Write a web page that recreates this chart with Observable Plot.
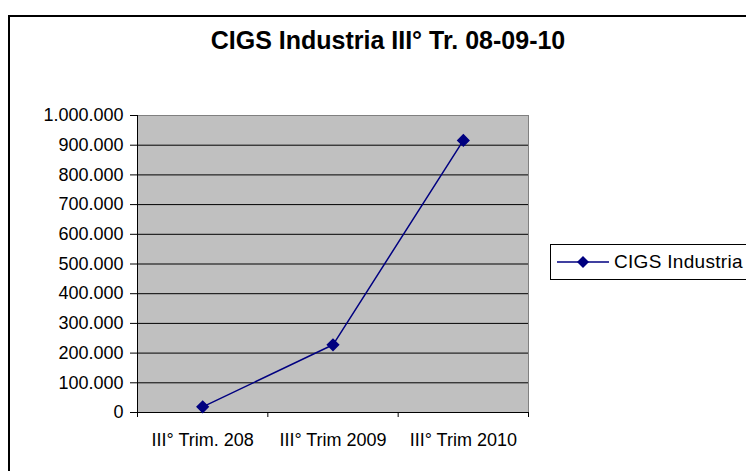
<!DOCTYPE html>
<html><head><meta charset="utf-8">
<script src="https://cdn.jsdelivr.net/npm/d3@7"></script>
<script src="https://cdn.jsdelivr.net/npm/@observablehq/plot@0.6"></script>
<style>
body{margin:0;background:#fff;font-family:"Liberation Sans",Arial,sans-serif;}
#wrap{position:relative;width:746px;height:471px;overflow:hidden;background:#fff;}
#frame{position:absolute;left:8px;top:15px;width:800px;height:520px;border:2px solid #000;box-sizing:border-box;pointer-events:none;}
#title{position:absolute;left:188px;width:400px;top:26px;text-align:center;font-weight:bold;font-size:25px;color:#000;white-space:nowrap;}
#legend{position:absolute;left:550px;top:244px;width:220px;height:36px;border:1px solid #000;box-sizing:border-box;background:#fff;display:flex;align-items:center;}
#legend span{font-size:19px;color:#000;margin-left:4px;white-space:nowrap;letter-spacing:0.3px;}
#chart{position:absolute;left:0;top:0;}
</style>
</head><body>
<div id="wrap">
  <div id="chart"></div>
  <div id="frame"></div>
  <div id="title">CIGS Industria III° Tr. 08-09-10</div>
  <div id="legend"><svg width="54" height="20" style="margin-left:5px"><line x1="1" x2="53" y1="10" y2="10" stroke="#000080" stroke-width="1.5"/><path d="M27,4L33,10L27,16L21,10Z" fill="#000080"/></svg><span id="legtext"></span></div>
</div>
<script>
const seriesName = "CIGS Industria";
const categories = ["III° Trim. 208", "III° Trim 2009", "III° Trim 2010"];
const values = [19000, 228000, 916000];
const yTicks = [0, 100000, 200000, 300000, 400000, 500000, 600000, 700000, 800000, 900000, 1000000];

document.getElementById("legtext").textContent = seriesName;

const data = categories.map((c, i) => ({cat: c, idx: i + 0.5, value: values[i]}));
const fmt = d3.formatLocale({thousands: ".", decimal: ",", grouping: [3], currency: ["", ""]}).format(",");

const chart = Plot.plot({
  width: 746,
  height: 471,
  marginLeft: 137,
  marginRight: 218,
  marginTop: 115,
  marginBottom: 59,
  style: {fontFamily: "'Liberation Sans', Arial, sans-serif", fontSize: "18px", color: "#000", background: "transparent"},
  x: {type: "linear", domain: [0, categories.length]},
  y: {domain: [0, 1000000]},
  marks: [
    Plot.frame({fill: "#c0c0c0", stroke: "#808080"}),
    Plot.ruleY(yTicks.filter(d => d > 0 && d < 1000000), {stroke: "#000", strokeWidth: 1}),
    Plot.axisY({ticks: yTicks, tickFormat: fmt, tickSize: 7, tickPadding: 7, label: null, fontSize: 18, style: {letterSpacing: "1.5px"}}),
    Plot.axisX({ticks: d3.range(categories.length + 1), tickFormat: () => "", tickSize: 5, label: null}),
    Plot.axisX({ticks: data.map(d => d.idx), tickFormat: d => categories[Math.floor(d)], tickSize: 0, tickPadding: 21, label: null, fontSize: 18}),
    Plot.ruleX([0], {stroke: "#000"}),
    Plot.ruleY([0], {stroke: "#000"}),
    Plot.line(data, {x: "idx", y: "value", stroke: "#000080", strokeWidth: 1.5}),
    Plot.dot(data, {x: "idx", y: "value", symbol: "diamond2", r: 5, fill: "#000080", stroke: "#000080"})
  ]
});
document.getElementById("chart").appendChild(chart);
</script>
</body></html>
